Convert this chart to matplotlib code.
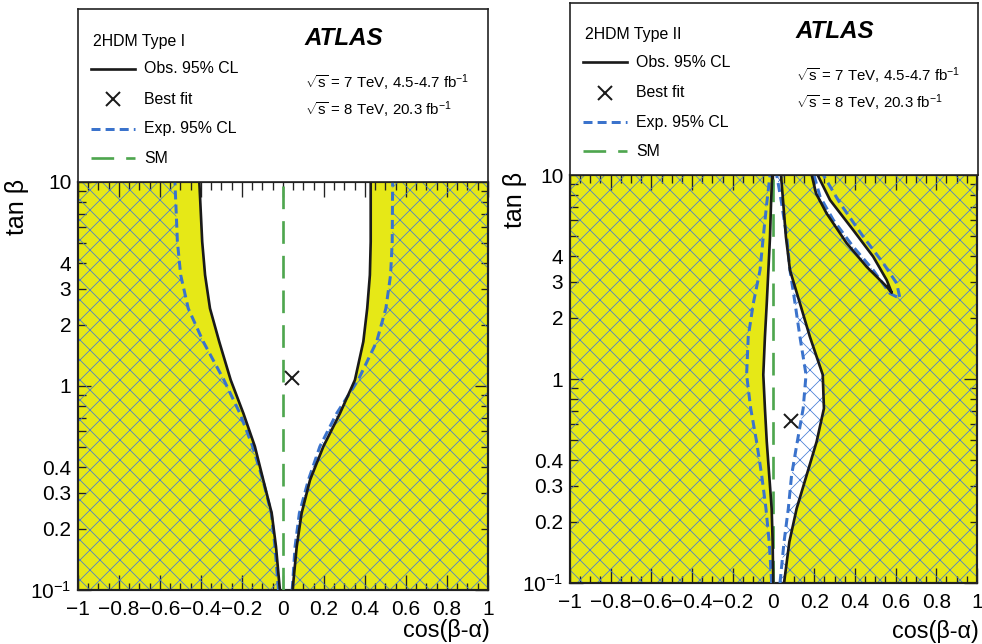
import numpy as np
import matplotlib
matplotlib.use('Agg')
import matplotlib.pyplot as plt
from matplotlib.path import Path
from matplotlib.patches import PathPatch
from matplotlib.ticker import FixedLocator, FixedFormatter, NullFormatter

plt.rcParams['font.family'] = ['Liberation Sans', 'DejaVu Sans']
plt.rcParams['mathtext.fontset'] = 'custom'
plt.rcParams['mathtext.rm'] = 'Liberation Sans'
plt.rcParams['mathtext.it'] = 'Liberation Sans:italic'
plt.rcParams['mathtext.bf'] = 'Liberation Sans:bold'
plt.rcParams['hatch.linewidth'] = 0.45

# ---- data (cos(beta-alpha) vs tan(beta)) ----
# Type I
tanb_1 = [0.1, 0.163, 0.238, 0.346, 0.505, 0.734, 1.07, 1.65, 2.40, 3.50, 5.10, 10]
obs1_left = [-0.015, -0.034, -0.055, -0.096, -0.137, -0.193, -0.255, -0.311, -0.356, -0.380, -0.394, -0.408]
obs1_right = [0.047, 0.067, 0.091, 0.132, 0.197, 0.278, 0.351, 0.392, 0.411, 0.424, 0.428, 0.428]
exp1_left = [-0.022, -0.039, -0.057, -0.098, -0.148, -0.210, -0.288, -0.389, -0.462, -0.499, -0.515, -0.527]
exp1_right = [0.045, 0.059, 0.080, 0.124, 0.180, 0.262, 0.367, 0.457, 0.502, 0.525, 0.533, 0.535]
best1 = (0.042, 1.09)

# Type II, central band
tanb_2 = [0.1, 0.159, 0.232, 0.338, 0.493, 0.718, 1.05, 1.61, 2.35, 3.42, 4.99, 7.27, 10]
obs2_left = [-0.001, -0.004, -0.009, -0.021, -0.033, -0.042, -0.050, -0.042, -0.033, -0.025, -0.017, -0.012, -0.006]
obs2_right = [0.052, 0.078, 0.114, 0.163, 0.212, 0.248, 0.242, 0.179, 0.130, 0.081, 0.061, 0.048, 0.037]
exp2_left = [-0.009, -0.021, -0.037, -0.058, -0.083, -0.112, -0.132, -0.124, -0.099, -0.066, -0.050, -0.033, -0.017]
exp2_right = [0.032, 0.052, 0.073, 0.089, 0.117, 0.146, 0.160, 0.130, 0.106, 0.081, 0.065, 0.040, 0.016]
# Type II, small allowed island (contour traced from top-left, round the tip, back to top)
island_obs_c = [0.188, 0.209, 0.261, 0.360, 0.458, 0.556, 0.581, 0.556, 0.490, 0.392, 0.278, 0.217]
island_obs_t = [10, 8.13, 6.49, 4.63, 3.55, 2.84, 2.65, 3.06, 3.98, 5.37, 7.54, 10]
island_exp_c = [0.199, 0.229, 0.294, 0.392, 0.490, 0.572, 0.622, 0.605, 0.540, 0.441, 0.327, 0.245]
island_exp_t = [10, 7.83, 6.02, 4.45, 3.42, 2.63, 2.48, 2.95, 3.69, 4.99, 7.27, 10]
best2 = (0.086, 0.62)

sm_cos = 0.0

x_ticks = [-1, -0.8, -0.6, -0.4, -0.2, 0, 0.2, 0.4, 0.6, 0.8, 1]
x_ticklabels = ['\u22121', '\u22120.8', '\u22120.6', '\u22120.4', '\u22120.2', '0', '0.2', '0.4', '0.6', '0.8', '1']
y_major = [0.1, 1, 10]
y_major_labels = ['$10^{-1}$', '1', '10']
y_minor = [0.2, 0.3, 0.4, 0.5, 0.6, 0.7, 0.8, 0.9, 2, 3, 4, 5, 6, 7, 8, 9]
y_minor_labels = ['0.2', '0.3', '0.4', '', '', '', '', '', '2', '3', '4', '', '', '', '', '']

YELLOW = '#e6e817'
HATCH_BLUE = '#4479d6'
BLUE = '#3b73cc'
GREEN = '#4ea64e'


def band(tanb, left, right):
    return list(left) + list(right)[::-1], list(tanb) + list(tanb)[::-1]


def outside_path(polys):
    # rectangle with holes: hatched everywhere except inside the polygons
    verts = [(-1.2, 0.08), (1.2, 0.08), (1.2, 12.0), (-1.2, 12.0), (-1.2, 0.08)]
    codes = [Path.MOVETO, Path.LINETO, Path.LINETO, Path.LINETO, Path.CLOSEPOLY]
    for xs, ys in polys:
        lx, ly = np.asarray(xs, float), np.log10(ys)
        area = 0.5 * np.sum(lx * np.roll(ly, -1) - np.roll(lx, -1) * ly)
        pts = list(zip(xs, ys))
        if area > 0:
            pts = pts[::-1]
        verts += pts + [pts[0]]
        codes += [Path.MOVETO] + [Path.LINETO] * (len(pts) - 1) + [Path.CLOSEPOLY]
    return Path(verts, codes)


def draw_panel(fig, rect, box_rect, title, obs_polys, exp_polys, obs_lines, exp_lines, best, ylab_x, xlab_y):
    ax = fig.add_axes(rect)
    ax.set_facecolor(YELLOW)
    for xs, ys in obs_polys:
        ax.fill(xs, ys, color='white', lw=0, zorder=1)
    ax.add_patch(PathPatch(outside_path(exp_polys), facecolor='none', edgecolor=HATCH_BLUE,
                           hatch='xx', lw=0, zorder=2))
    for xs, ys in exp_lines:
        ax.plot(xs, ys, color=BLUE, lw=1.8, ls=(0, (3.0, 1.7)), zorder=4)
    for xs, ys in obs_lines:
        ax.plot(xs, ys, color='#1a1a1a', lw=1.6, zorder=5)
    ax.axvline(sm_cos, color=GREEN, lw=1.6, ls=(0, (8.5, 4.5)), zorder=3)
    ax.plot([best[0]], [best[1]], marker='x', ms=8, mew=1.2, color='#1a1a1a', zorder=6)

    ax.set_xlim(-1, 1)
    ax.set_yscale('log')
    ax.set_ylim(0.1, 10)
    ax.xaxis.set_major_locator(FixedLocator(x_ticks))
    ax.xaxis.set_major_formatter(FixedFormatter(x_ticklabels))
    ax.xaxis.set_minor_locator(FixedLocator(np.arange(-1, 1.001, 0.05)))
    ax.xaxis.set_minor_formatter(NullFormatter())
    ax.yaxis.set_major_locator(FixedLocator(y_major))
    ax.yaxis.set_major_formatter(FixedFormatter(y_major_labels))
    ax.yaxis.set_minor_locator(FixedLocator(y_minor))
    ax.yaxis.set_minor_formatter(FixedFormatter(y_minor_labels))
    ax.tick_params(which='both', direction='in', top=True, right=True, width=0.8,
                   color='#222222', labelsize=12.5)
    ax.tick_params(axis='x', which='major', length=9, pad=6)
    ax.tick_params(axis='x', which='minor', length=4.5)
    ax.tick_params(axis='y', which='major', length=8, pad=4)
    ax.tick_params(axis='y', which='minor', length=4.5, pad=4)
    for s in ax.spines.values():
        s.set_linewidth(1.3)
        s.set_color('#222222')
    ax.text(ylab_x, 1.008, 'tan \u03b2', transform=ax.transAxes, rotation=90,
            ha='center', va='top', fontsize=15)
    ax.text(1.005, xlab_y, 'cos(\u03b2-\u03b1)', transform=ax.transAxes,
            ha='right', va='center', fontsize=14)

    bx = fig.add_axes(box_rect)
    bx.set_xlim(0, 1)
    bx.set_ylim(0, 1)
    bx.set_xticks([])
    bx.set_yticks([])
    for s in bx.spines.values():
        s.set_linewidth(1.0)
        s.set_color('#222222')
    fs = 9.5
    bx.text(0.037, 0.815, title, ha='left', va='center', fontsize=fs)
    bx.plot([0.031, 0.140], [0.655, 0.655], color='#1a1a1a', lw=1.6)
    bx.text(0.162, 0.655, 'Obs. 95% CL', ha='left', va='center', fontsize=fs)
    bx.plot([0.085], [0.478], marker='x', ms=8, mew=1.2, color='#1a1a1a')
    bx.text(0.162, 0.478, 'Best fit', ha='left', va='center', fontsize=fs)
    bx.plot([0.031, 0.140], [0.307, 0.307], color=BLUE, lw=1.8, ls=(0, (3.0, 1.7)))
    bx.text(0.162, 0.307, 'Exp. 95% CL', ha='left', va='center', fontsize=fs)
    bx.plot([0.031, 0.140], [0.137, 0.137], color=GREEN, lw=1.6, ls=(0, (8.5, 4.5)))
    bx.text(0.162, 0.137, 'SM', ha='left', va='center', fontsize=fs)
    bx.text(0.552, 0.832, 'ATLAS', ha='left', va='center', fontsize=14.5,
            fontweight='bold', fontstyle='italic')
    bx.text(0.554, 0.574, r'$\sqrt{\mathrm{s}}$ = 7 TeV, 4.5-4.7 fb$^{-1}$', ha='left', va='center', fontsize=9)
    bx.text(0.554, 0.418, r'$\sqrt{\mathrm{s}}$ = 8 TeV, 20.3 fb$^{-1}$', ha='left', va='center', fontsize=9)
    return ax


fig = plt.figure(figsize=(982 / 120, 644 / 120), dpi=120)

band1_obs = band(tanb_1, obs1_left, obs1_right)
band1_exp = band(tanb_1, exp1_left, exp1_right)
draw_panel(fig, [0.0794, 0.0839, 0.4175, 0.6335], [0.0794, 0.7174, 0.4175, 0.2686],
           '2HDM Type I', [band1_obs], [band1_exp],
           [(obs1_left, tanb_1), (obs1_right, tanb_1)],
           [(exp1_left, tanb_1), (exp1_right, tanb_1)],
           best1, -0.149, -0.10)

band2_obs = band(tanb_2, obs2_left, obs2_right)
band2_exp = band(tanb_2, exp2_left, exp2_right)
draw_panel(fig, [0.5804, 0.0947, 0.4145, 0.6335], [0.5804, 0.7283, 0.4155, 0.2671],
           '2HDM Type II',
           [band2_obs, (island_obs_c, island_obs_t)],
           [band2_exp, (island_exp_c, island_exp_t)],
           [(obs2_left, tanb_2), (obs2_right, tanb_2), (island_obs_c, island_obs_t)],
           [(exp2_left, tanb_2), (exp2_right, tanb_2), (island_exp_c, island_exp_t)],
           best2, -0.135, -0.118)

fig.savefig('out.png', dpi=120)
